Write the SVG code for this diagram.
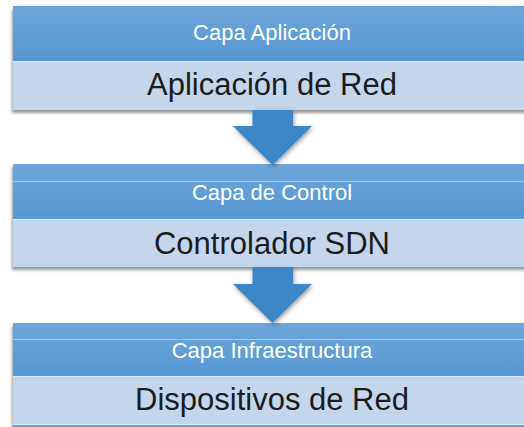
<svg xmlns="http://www.w3.org/2000/svg" width="524" height="427" viewBox="0 0 524 427">
  <defs>
    <linearGradient id="hdr" x1="0" y1="0" x2="0" y2="1">
      <stop offset="0" stop-color="#6ca5da"/>
      <stop offset="1" stop-color="#5798d3"/>
    </linearGradient>
    <filter id="shadow" x="-10%" y="-20%" width="120%" height="150%">
      <feDropShadow dx="-1" dy="3" stdDeviation="1.5" flood-color="#555" flood-opacity="0.6"/>
    </filter>
    <filter id="ashadow" x="-20%" y="-20%" width="140%" height="140%">
      <feDropShadow dx="1" dy="2" stdDeviation="2" flood-color="#333" flood-opacity="0.5"/>
    </filter>
  </defs>
  <style>
    .hdr { fill: url(#hdr); }
    .body { fill: #c4d6ec; }
    .sep { stroke: #dde9f6; stroke-width: 1; }
    .band { stroke: #a8c8ea; stroke-width: 1; }
    .title { font-family: "Liberation Sans", Arial, sans-serif; font-size: 22px; fill: #ffffff; text-anchor: middle; }
    .label { font-family: "Liberation Sans", Arial, sans-serif; font-size: 31px; fill: #1c1c1c; text-anchor: middle; }
    .arrow { fill: #3d87c9; filter: url(#ashadow); }
  </style>

  <rect width="524" height="427" fill="#ffffff"/>

  <!-- Application layer -->
  <g id="capa-aplicacion">
    <g filter="url(#shadow)">
      <rect class="hdr" x="13" y="6" width="520" height="55"/>
      <rect class="body" x="13" y="61" width="520" height="49"/>
    </g>
    <line class="sep" x1="13" y1="61.5" x2="524" y2="61.5"/>
    <text class="title" x="272" y="40">Capa Aplicación</text>
    <text class="label" x="272" y="95">Aplicación de Red</text>
  </g>

  <!-- Control layer -->
  <g id="capa-control">
    <g filter="url(#shadow)">
      <rect class="hdr" x="13" y="164" width="520" height="55"/>
      <rect class="body" x="13" y="219" width="520" height="48"/>
    </g>
    <line class="band" x1="13" y1="181.5" x2="524" y2="181.5"/>
    <line class="sep" x1="13" y1="219.5" x2="524" y2="219.5"/>
    <text class="title" x="272" y="200">Capa de Control</text>
    <text class="label" x="272" y="254">Controlador SDN</text>
  </g>

  <!-- Infrastructure layer -->
  <g id="capa-infraestructura">
    <g filter="url(#shadow)">
      <rect class="hdr" x="13" y="323" width="520" height="53"/>
      <rect class="body" x="13" y="376" width="520" height="48"/>
      <rect class="hdr" x="13" y="424" width="520" height="6"/>
    </g>
    <line class="band" x1="13" y1="339.5" x2="524" y2="339.5"/>
    <line class="sep" x1="13" y1="376.5" x2="524" y2="376.5"/>
    <line class="sep" x1="13" y1="424.5" x2="524" y2="424.5"/>
    <text class="title" x="272" y="358">Capa Infraestructura</text>
    <text class="label" x="272" y="410">Dispositivos de Red</text>
  </g>

  <!-- Down arrows between layers -->
  <g id="connectors">
    <path class="arrow" d="M252.5,110 H293 V126 H312 L272.5,165 L233,126 H252.5 Z"/>
    <path class="arrow" d="M252.5,267 H293 V284 H312 L272.5,323 L233,284 H252.5 Z"/>
  </g>
</svg>
